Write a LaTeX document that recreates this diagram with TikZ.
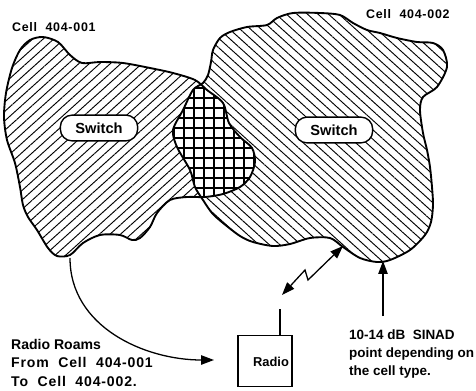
\documentclass[tikz,border=0pt]{standalone}
\usepackage{fontspec}
\setmainfont{Liberation Sans}
\newfontfamily\widefont[LetterSpace=6]{Liberation Sans}
\usetikzlibrary{arrows.meta,patterns.meta}
\tikzset{
  cell one/.style={insert path={plot[smooth cycle, tension=0.5] coordinates {
    (20,50) (30,40) (43,37) (58,42) (70,55) (82,63) (100,62) (123,63) (150,68)
    (173,73) (195,80) (207,90) (223,103) (229,123) (240,137) (252,148) (255,162)
    (250,177) (240,187) (223,194) (205,197) (187,197) (170,200) (157,213) (150,227)
    (140,238) (132,240) (120,235) (100,235) (83,243) (70,255) (57,256) (48,248)
    (37,230) (28,217) (23,205) (20,187) (15,163) (7,140) (4,117) (6,93) (12,68)}}},
  cell two/.style={insert path={plot[smooth cycle, tension=0.5] coordinates {
    (213,50) (220,38) (230,32) (247,27) (267,25) (277,18) (293,13) (320,13) (340,15)
    (353,23) (367,30) (380,33) (397,38) (417,42) (433,43) (443,50) (447,67) (437,87)
    (423,97) (420,110) (423,133) (427,150) (430,167) (432,187) (433,205) (431,222)
    (425,235) (410,250) (390,260) (377,262) (360,258) (343,247) (330,238) (310,238)
    (290,244) (273,246) (253,242) (240,236) (223,223) (212,213) (203,200) (195,187)
    (190,170) (177,147) (173,130) (183,110) (193,90) (203,83) (208,75) (211,62)}}},
  switchbox/.style={draw, fill=white, line width=1.2pt, rounded corners=10pt,
    minimum width=66pt, minimum height=22pt, font=\fontsize{12.5}{14}\selectfont\bfseries},
  sig/.style={line width=1.1pt},
  >={Stealth[length=11pt,width=8pt,inset=0pt]}
}
\begin{document}
\begin{tikzpicture}[x=0.03cm, y=-0.03cm]
    \useasboundingbox (0,0) rectangle (476,390);

    % coverage areas
    \fill[pattern={Lines[angle=42,distance=6pt,line width=0.8pt]}, cell one];
    \fill[pattern={Lines[angle=-42,distance=6pt,line width=0.8pt]}, cell two];
    \begin{scope}
        \clip[cell one];
        \fill[white, cell two];
        \clip[cell two];
        \foreach \gx in {164,174,...,264}
            \draw[line width=0.9pt] (\gx,75) -- (\gx,210);
        \foreach \gy in {78,88,...,208}
            \draw[line width=0.9pt] (160,\gy) -- (270,\gy);
    \end{scope}
    \draw[line width=1.6pt, cell one];
    \draw[line width=1.6pt, cell two];

    \node[anchor=base west, font=\widefont\fontsize{10.6}{12}\selectfont\bfseries] (lblone) at (8,31) {Cell\ \ 404-001};
    \node[anchor=base west, font=\widefont\fontsize{10.6}{12}\selectfont\bfseries] (lbltwo) at (362,18) {Cell\ \ 404-002};

    \node[switchbox] (swone) at (99,128) {Switch};
    \node[switchbox] (swtwo) at (334,130) {Switch};

    % radio
    \node[draw, line width=1.1pt, minimum width=46pt, minimum height=44pt] (radio) at (265,361) {};
    \node[font=\fontsize{11}{12}\selectfont\bfseries] (radiotxt) at (271,362) {Radio};
    \coordinate (ant) at (280,309);
    \draw[sig] (ant) -- (ant |- radio.north);

    % roaming
    \coordinate (roamfrom) at (70,258);
    \coordinate (roamto) at (214,360);
    \draw[sig, ->] (roamfrom) to[out=-90, in=180] (roamto);

    % radio link
    \coordinate (linkradio) at (282,295);
    \coordinate (linkcell) at (343,246);
    \draw[sig, <->] (linkradio) -- (305,270) -- (308,280) -- (linkcell);

    % sinad point
    \coordinate (sinadpt) at (383,261);
    \coordinate (sinadfoot) at (383,316);
    \draw[sig, ->] (sinadfoot) -- (sinadpt);

    \node[anchor=base west, align=left, font=\fontsize{11.5}{15}\selectfont\bfseries] (sinad) at (345,375)
        {10-14\ dB\ \ SINAD\\point depending on\\the cell type.};
    \node[anchor=base west, align=left, font=\fontsize{12}{15.7}\selectfont\bfseries] (roam) at (7,386)
        {Radio Roams\\{\widefont From\ \ Cell\ \ 404-001}\\{\widefont To\ \ Cell\ \ 404-002.}};
\end{tikzpicture}
\end{document}
